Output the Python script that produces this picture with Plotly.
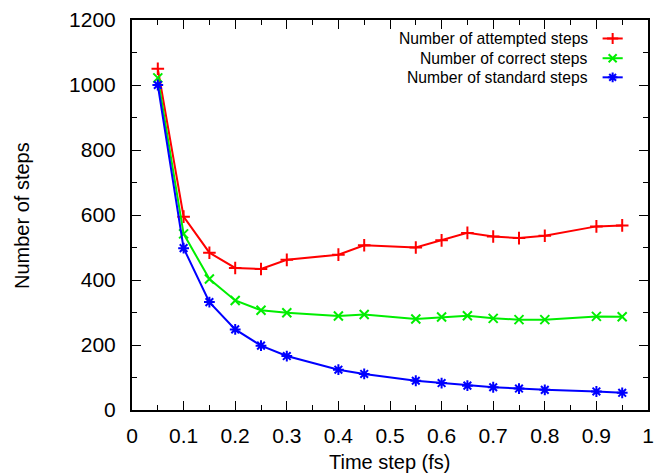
import plotly.graph_objects as go

time_step = [0.05, 0.1, 0.15, 0.2, 0.25, 0.3, 0.4, 0.45, 0.55, 0.6, 0.65, 0.7, 0.75, 0.8, 0.9, 0.95]
attempted = [1050, 595, 484, 437, 434, 462, 478, 507, 500, 522, 545, 534, 529, 536, 565, 568]
correct = [1022, 542, 403, 337, 307, 299, 289, 294, 280, 286, 290, 282, 278, 278, 288, 287]
standard = [1000, 498, 332, 248, 198, 166, 124, 111, 90, 83, 75, 70, 66, 62, 57, 53]

names = ["Number of attempted steps", "Number of correct steps", "Number of standard steps"]
colors = ["#ff0000", "#00ee00", "#0000ff"]
symbols = ["cross-thin-open", "x-thin-open", "asterisk-open"]
series = [attempted, correct, standard]

FONT = "Liberation Sans, Arial, sans-serif"

fig = go.Figure()
for name, col, sym, ys in zip(names, colors, symbols, series):
    fig.add_trace(go.Scatter(
        x=time_step, y=ys, mode="lines+markers", name=name,
        line=dict(color=col, width=2),
        marker=dict(symbol=sym, size=9, color=col, line=dict(color=col, width=2)),
        showlegend=False,
    ))

# legend built by hand (text right-aligned, sample on the right, like gnuplot)
leg_y = [0.9526, 0.902, 0.853]
for name, col, sym, ly in zip(names, colors, symbols, leg_y):
    fig.add_trace(go.Scatter(
        x=[0.912, 0.951], y=[ly, ly], mode="lines", xaxis="x2", yaxis="y2",
        line=dict(color=col, width=2), showlegend=False, hoverinfo="skip"))
    fig.add_trace(go.Scatter(
        x=[0.9315], y=[ly], mode="markers", xaxis="x2", yaxis="y2",
        marker=dict(symbol=sym, size=8, color=col, line=dict(color=col, width=2)),
        showlegend=False, hoverinfo="skip"))
    fig.add_annotation(x=0.8876, y=ly, xref="paper", yref="paper", text=name,
                       showarrow=False, xanchor="right", yanchor="middle",
                       font=dict(family=FONT, size=15.7, color="black"))

# axis titles
fig.add_annotation(x=0.5, y=-0.1346, xref="paper", yref="paper", text="Time step (fs)",
                   showarrow=False, xanchor="center", yanchor="middle",
                   font=dict(family=FONT, size=20, color="black"))
fig.add_annotation(x=-0.2132, y=0.5, xref="paper", yref="paper", text="Number of steps",
                   showarrow=False, xanchor="center", yanchor="middle", textangle=-90,
                   font=dict(family=FONT, size=20, color="black"))

axis_common = dict(
    showgrid=False, zeroline=False, showline=True, linecolor="black", linewidth=2,
    mirror="allticks", ticks="inside", ticklen=9, tickwidth=1, tickcolor="black",
    tickfont=dict(family=FONT, size=21, color="black"), automargin=False,
)

fig.update_layout(
    width=657, height=473,
    margin=dict(l=132, r=9, t=20, b=63),
    plot_bgcolor="white", paper_bgcolor="white",
    xaxis=dict(range=[0, 1], dtick=0.1, tick0=0, ticklabelstandoff=6,
               minor=dict(dtick=0.05, ticks="inside", ticklen=5, tickcolor="black"),
               **axis_common),
    yaxis=dict(range=[0, 1200], dtick=200, tick0=0, ticklabelstandoff=10,
               minor=dict(dtick=100, ticks="inside", ticklen=5, tickcolor="black"),
               **axis_common),
    xaxis2=dict(range=[0, 1], overlaying="x", visible=False),
    yaxis2=dict(range=[0, 1], overlaying="y", visible=False),
)

fig.write_html("out.html")
